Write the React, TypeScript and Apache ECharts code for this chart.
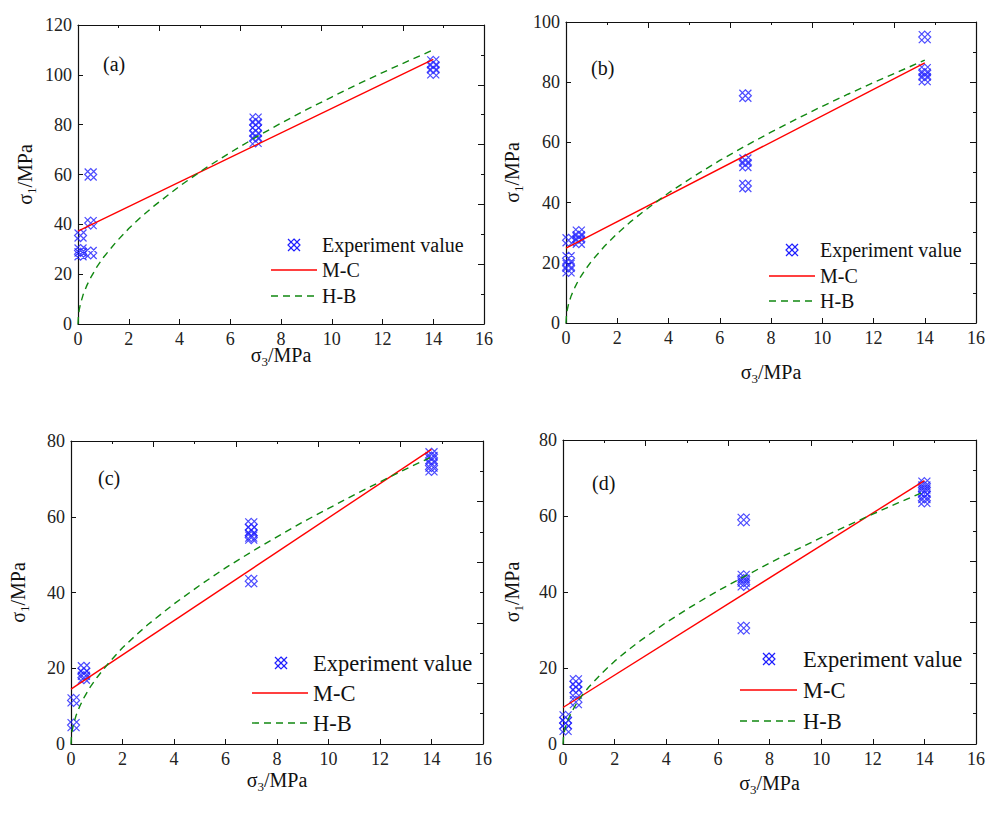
import React, { useEffect, useRef } from 'react';
import * as echarts from 'echarts';

const FONT = 'Liberation Serif';

// Experimental points [sigma3, sigma1]
const expA: number[][] = [[0.1, 35.5], [0.1, 29.5], [0.1, 28], [0.5, 60], [0.5, 40.5], [0.5, 28.5], [7, 82], [7, 80], [7, 77.5], [7, 75.5], [7, 73.5], [14, 105], [14, 103], [14, 101]];
const expB: number[][] = [[0.1, 27.5], [0.1, 21.5], [0.1, 19], [0.1, 17.5], [0.5, 30], [0.5, 28.5], [0.5, 27], [7, 75.5], [7, 54], [7, 52.5], [7, 45.5], [14, 95], [14, 84], [14, 82.5], [14, 81]];
const expC: number[][] = [[0.1, 11.5], [0.1, 5], [0.5, 20], [0.5, 18.5], [0.5, 17.5], [7, 58], [7, 56.5], [7, 55], [7, 54.5], [7, 43], [14, 76.5], [14, 75.5], [14, 73.5], [14, 72.5]];
const expD: number[][] = [[0.1, 7], [0.1, 5.5], [0.1, 4], [0.5, 16.5], [0.5, 15], [0.5, 13.5], [0.5, 11], [7, 59], [7, 44], [7, 43], [7, 42], [7, 30.5], [14, 68.5], [14, 67.5], [14, 66.5], [14, 65], [14, 64]];

// M-C fitted lines
const mcA: number[][] = [[0, 37.3], [14, 106.2]];
const mcB: number[][] = [[0, 24.9], [14, 86.4]];
const mcC: number[][] = [[0, 14.5], [14, 77.8]];
const mcD: number[][] = [[0, 9.6], [14, 69.3]];

// H-B fitted curves
const hbX: number[] = [0, 0.02, 0.05, 0.1, 0.2, 0.35, 0.5, 0.75, 1, 1.5, 2, 2.5, 3, 4, 5, 6, 7, 8, 9, 10, 11, 12, 13, 14];
const hbA: number[] = [0, 3.6, 5.8, 8.2, 11.7, 15.5, 18.6, 23.0, 26.7, 32.9, 38.3, 43.1, 47.4, 55.3, 62.4, 68.8, 74.9, 80.6, 86.0, 91.1, 96.1, 100.9, 105.5, 110.0];
const hbB: number[] = [0, 2.8, 4.4, 6.3, 9.0, 11.9, 14.4, 17.7, 20.6, 25.5, 29.7, 33.5, 36.9, 43.2, 48.8, 54.0, 58.8, 63.4, 67.8, 72.0, 76.0, 79.9, 83.6, 87.3];
const hbC: number[] = [0, 2.4, 3.7, 5.3, 7.6, 10.1, 12.2, 15.1, 17.5, 21.7, 25.4, 28.6, 31.6, 37.0, 41.9, 46.5, 50.7, 54.7, 58.6, 62.2, 65.8, 69.2, 72.6, 75.8];
const hbD: number[] = [0, 2.0, 3.2, 4.5, 6.5, 8.6, 10.4, 12.9, 15.0, 18.6, 21.8, 24.6, 27.2, 32.0, 36.3, 40.3, 44.0, 47.6, 51.0, 54.3, 57.4, 60.5, 63.5, 66.4];

const yMaxes: number[] = [120, 100, 80, 80];
const yIntervals: number[] = [20, 20, 20, 20];
const panelLabels: string[] = ['(a)', '(b)', '(c)', '(d)'];
const legendNames: string[] = ['Experiment value', 'M-C', 'H-B'];

const MARKER = 'path://M0,0L12,12M12,0L0,12M6,0L12,6L6,12L0,6Z';
const BLUE = '#1f1fff';
const RED = '#ff0000';
const GREEN = '#118811';

const grids = [
  { left: 78, top: 25, width: 406, height: 299 },
  { left: 566, top: 22, width: 410, height: 301 },
  { left: 71, top: 441, width: 412, height: 303 },
  { left: 563, top: 440, width: 413, height: 304 },
];
// legend layout: marker centre x, line start/end, text x, row centres, font size
const legendLayout = [
  { mx: 294, x1: 271, x2: 317, tx: 322, rows: [245, 270, 296], fs: 20 },
  { mx: 792, x1: 769, x2: 815, tx: 820, rows: [250, 276, 301], fs: 20 },
  { mx: 281, x1: 252, x2: 308, tx: 313, rows: [663, 693, 723], fs: 22.5 },
  { mx: 769, x1: 740, x2: 797, tx: 803, rows: [659, 690, 721], fs: 22.5 },
];
const labelPos = [
  { left: 103, top: 54 },
  { left: 591, top: 58 },
  { left: 98, top: 468 },
  { left: 592, top: 473 },
];
const xNameGap = [18, 36, 23, 26];
const yNameGap = [40, 41, 40, 38];

function buildOption() {
  const axisLine = { show: true, onZero: false, lineStyle: { color: '#111', width: 1.2 } };
  const tickStyle = { color: '#111', width: 1 };
  const richName = (main: number) => ({
    fontFamily: FONT,
    color: '#111',
    rich: {
      s: { fontFamily: FONT, fontSize: main, color: '#111', lineHeight: 26, verticalAlign: 'middle' },
      sub: { fontFamily: FONT, fontSize: 13, color: '#111', lineHeight: 26, verticalAlign: 'bottom' },
    },
  });
  const xAxis: any[] = [];
  const yAxis: any[] = [];
  const series: any[] = [];
  const graphic: any[] = [];
  const exps = [expA, expB, expC, expD];
  const mcs = [mcA, mcB, mcC, mcD];
  const hbs = [hbA, hbB, hbC, hbD];
  for (let i = 0; i < 4; i++) {
    xAxis.push({
      gridIndex: i, type: 'value', min: 0, max: 16, interval: 2, position: 'bottom',
      axisLine, axisTick: { show: true, inside: true, length: 5, lineStyle: tickStyle },
      axisLabel: { fontFamily: FONT, fontSize: 18, color: '#222', margin: 6 },
      splitLine: { show: false },
      name: '{s|σ}{sub|3}{s|/MPa}', nameLocation: 'middle', nameGap: xNameGap[i], nameMoveOverlap: false,
      nameTextStyle: richName(20),
    });
    xAxis.push({
      gridIndex: i, type: 'value', min: 0, max: 10, interval: 2, position: 'top',
      axisLine, axisTick: { show: true, inside: true, length: 6, lineStyle: tickStyle },
      minorTick: { show: true, splitNumber: 2, length: 3, lineStyle: tickStyle },
      axisLabel: { show: false }, splitLine: { show: false },
    });
    yAxis.push({
      gridIndex: i, type: 'value', min: 0, max: yMaxes[i], interval: yIntervals[i], position: 'left',
      axisLine, axisTick: { show: true, inside: true, length: 5, lineStyle: tickStyle },
      axisLabel: { fontFamily: FONT, fontSize: 18, color: '#222', margin: 6 },
      splitLine: { show: false },
      name: '{s|σ}{sub|1}{s|/MPa}', nameLocation: 'middle', nameGap: yNameGap[i], nameRotate: 90, nameMoveOverlap: false,
      nameTextStyle: richName(20),
    });
    yAxis.push({
      gridIndex: i, type: 'value', min: 0, max: 10, interval: 2, position: 'right',
      axisLine, axisTick: { show: true, inside: true, length: 6, lineStyle: tickStyle },
      minorTick: { show: true, splitNumber: 2, length: 3, lineStyle: tickStyle },
      axisLabel: { show: false }, splitLine: { show: false },
    });
    series.push({
      type: 'scatter', name: legendNames[0], xAxisIndex: 2 * i, yAxisIndex: 2 * i,
      data: exps[i], symbol: MARKER, symbolSize: 12, symbolKeepAspect: true,
      itemStyle: { color: 'none', borderColor: BLUE, borderWidth: 1.2 },
      z: 2,
    });
    series.push({
      type: 'line', name: legendNames[1], xAxisIndex: 2 * i, yAxisIndex: 2 * i,
      data: mcs[i], symbol: 'none', showSymbol: false,
      lineStyle: { color: RED, width: 1.4 }, itemStyle: { color: RED }, z: 3,
    });
    series.push({
      type: 'line', name: legendNames[2], xAxisIndex: 2 * i, yAxisIndex: 2 * i,
      data: hbX.map((x, k) => [x, hbs[i][k]]), symbol: 'none', showSymbol: false,
      smooth: false,
      lineStyle: { color: GREEN, width: 1.4, type: [7, 5] }, itemStyle: { color: GREEN }, z: 3,
    });
    // legend drawn as graphics
    const L = legendLayout[i];
    const font = `${L.fs}px ${FONT}`;
    graphic.push({
      type: 'group', x: L.mx - 6, y: L.rows[0] - 6,
      children: [
        { type: 'line', shape: { x1: 0, y1: 0, x2: 12, y2: 12 }, style: { stroke: BLUE, lineWidth: 1.2 } },
        { type: 'line', shape: { x1: 12, y1: 0, x2: 0, y2: 12 }, style: { stroke: BLUE, lineWidth: 1.2 } },
        { type: 'polygon', shape: { points: [[6, 0], [12, 6], [6, 12], [0, 6]] }, style: { fill: 'none', stroke: BLUE, lineWidth: 1.2 } },
      ],
    });
    graphic.push({
      type: 'line', shape: { x1: L.x1, y1: L.rows[1], x2: L.x2, y2: L.rows[1] },
      style: { stroke: RED, lineWidth: 1.4 },
    });
    graphic.push({
      type: 'line', shape: { x1: L.x1, y1: L.rows[2], x2: L.x2, y2: L.rows[2] },
      style: { stroke: GREEN, lineWidth: 1.4, lineDash: [7, 5] },
    });
    for (let r = 0; r < 3; r++) {
      graphic.push({
        type: 'text', x: L.tx, y: L.rows[r],
        style: { text: legendNames[r], font, fill: '#111', align: 'left', verticalAlign: 'middle' },
      });
    }
    graphic.push({
      type: 'text', left: labelPos[i].left, top: labelPos[i].top,
      style: { text: panelLabels[i], font: `20px ${FONT}`, fill: '#111' },
    });
  }
  return {
    animation: false,
    backgroundColor: '#ffffff',
    grid: grids,
    xAxis, yAxis, series, graphic,
  };
}

export default function App() {
  const ref = useRef<HTMLDivElement>(null);
  useEffect(() => {
    const chart = echarts.init(ref.current!, null, { renderer: 'svg' });
    chart.setOption(buildOption() as any);
    return () => chart.dispose();
  }, []);
  return <div ref={ref} style={{ position: 'absolute', left: 0, top: 0, width: 997, height: 817 }} />;
}
